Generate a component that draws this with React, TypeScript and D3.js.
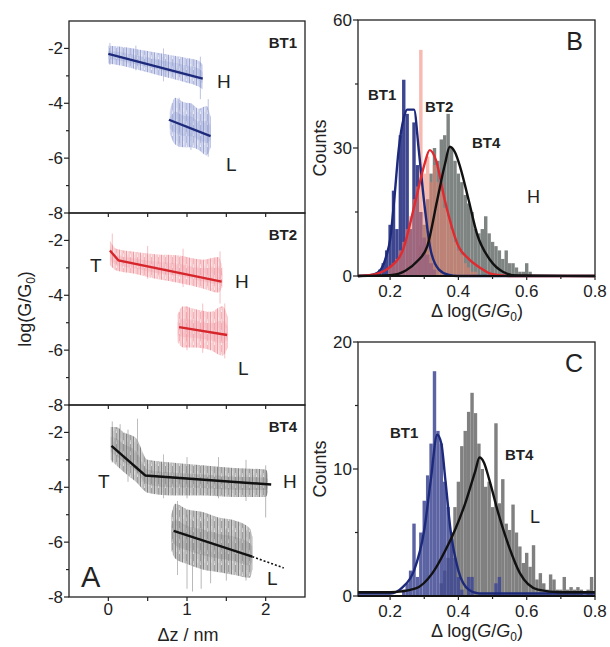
import React from 'react';
import * as d3 from 'd3';

// ---------- Panel A: conductance traces (envelopes) ----------
const zTicks = [0, 0.5, 1, 1.5, 2];
const zLabels = [0, 1, 2];
const logMajor = [-8, -6, -4, -2];
const logMinor = [-7, -5, -3];

const bt1HighZ = [0, 0.2, 0.4, 0.6, 0.8, 1.0, 1.15, 1.2];
const bt1HighTop = [-1.9, -1.95, -2.05, -2.15, -2.25, -2.35, -2.45, -2.6];
const bt1HighBot = [-2.55, -2.65, -2.8, -2.95, -3.1, -3.25, -3.4, -3.5];
const bt1LowZ = [0.78, 0.85, 0.95, 1.05, 1.15, 1.25, 1.3];
const bt1LowTop = [-4.3, -3.8, -3.95, -4.0, -4.2, -4.1, -4.5];
const bt1LowBot = [-5.1, -5.5, -5.6, -5.6, -5.7, -5.9, -5.6];

const bt2HighZ = [0.02, 0.1, 0.3, 0.6, 0.9, 1.2, 1.4, 1.45];
const bt2HighTop = [-2.0, -2.3, -2.4, -2.5, -2.55, -2.7, -2.6, -3.0];
const bt2HighBot = [-2.9, -3.1, -3.2, -3.4, -3.55, -3.75, -3.9, -3.7];
const bt2LowZ = [0.88, 0.95, 1.1, 1.3, 1.45, 1.52];
const bt2LowTop = [-4.7, -4.4, -4.5, -4.6, -4.4, -4.8];
const bt2LowBot = [-5.7, -5.9, -5.9, -6.0, -6.2, -5.9];

const bt4HighZ = [0.03, 0.1, 0.2, 0.35, 0.5, 0.8, 1.2, 1.6, 2.0, 2.03];
const bt4HighTop = [-1.8, -1.8, -2.0, -2.2, -3.0, -3.1, -3.2, -3.3, -3.35, -3.5];
const bt4HighBot = [-3.0, -3.2, -3.45, -3.8, -4.2, -4.3, -4.3, -4.35, -4.35, -4.2];
const bt4LowZ = [0.8, 0.85, 1.0, 1.2, 1.4, 1.6, 1.8, 1.83];
const bt4LowTop = [-5.0, -4.6, -4.8, -4.9, -5.1, -5.2, -5.5, -5.8];
const bt4LowBot = [-6.3, -6.6, -6.8, -7.0, -7.1, -7.2, -7.3, -7.0];

// spikes: [z, top, bottom]
const bt1Spikes = [[0.02, -1.8, -2.6], [0.35, -1.9, -2.8], [0.7, -2.0, -3.2], [1.17, -2.3, -3.85], [0.9, -3.8, -5.6], [1.27, -3.85, -5.95], [1.05, -4.0, -5.7]];
const bt2Spikes = [[0.05, -1.75, -2.8], [0.5, -2.2, -3.4], [0.95, -2.3, -3.7], [1.42, -2.4, -4.3], [1.48, -4.3, -6.3], [1.0, -4.4, -6.0], [1.2, -4.3, -6.1]];
const bt4Spikes = [
  [0.05, -1.6, -3.1], [0.15, -1.7, -3.2], [0.25, -1.9, -3.8], [0.37, -1.5, -3.5],
  [0.7, -2.8, -4.4], [1.0, -2.9, -4.4], [1.4, -2.9, -4.4], [1.75, -3.0, -4.5], [2.0, -3.2, -5.1],
  [0.88, -4.5, -7.2], [1.0, -5.0, -7.7], [1.07, -5.2, -7.8], [1.18, -5.3, -7.7], [1.3, -5.5, -7.5], [1.5, -5.5, -7.4], [1.75, -5.6, -7.4],
];

// fitted lines: [z, log]
const bt1FitH = [[0, -2.2], [1.2, -3.1]];
const bt1FitL = [[0.77, -4.6], [1.3, -5.2]];
const bt2FitH = [[0.02, -2.37], [0.13, -2.73], [1.44, -3.5]];
const bt2FitL = [[0.9, -5.16], [1.51, -5.45]];
const bt4FitH = [[0.04, -2.49], [0.47, -3.57], [2.07, -3.9]];
const bt4FitL = [[0.83, -5.59], [1.83, -6.53]];
const bt4FitLExt = [[1.83, -6.53], [2.23, -6.94]];

// ---------- Panel B: H-state noise histograms ----------
const histB_BT1 = [[0.16, 0.5], [0.17, 1.5], [0.18, 3], [0.19, 6], [0.20, 12], [0.21, 20], [0.22, 11], [0.23, 33], [0.24, 46], [0.25, 38], [0.26, 11], [0.27, 36], [0.28, 26], [0.29, 15], [0.30, 9], [0.31, 5], [0.32, 3], [0.33, 1.5]];
const histB_BT2 = [[0.20, 2], [0.21, 3], [0.22, 4], [0.23, 6], [0.24, 8], [0.25, 11], [0.26, 14], [0.27, 18], [0.28, 21], [0.29, 53], [0.30, 24], [0.31, 28], [0.32, 22], [0.33, 26], [0.34, 22], [0.35, 20], [0.36, 16], [0.37, 14], [0.38, 11], [0.39, 8], [0.40, 6], [0.41, 5], [0.42, 3], [0.43, 2], [0.44, 1], [0.45, 1]];
const histB_BT4 = [[0.26, 1], [0.27, 2], [0.28, 4], [0.29, 7], [0.30, 12], [0.31, 18], [0.32, 24], [0.33, 30], [0.34, 27], [0.35, 32], [0.36, 33], [0.37, 38], [0.38, 30], [0.39, 27], [0.40, 24], [0.41, 22], [0.42, 19], [0.43, 17], [0.44, 15], [0.45, 11], [0.46, 10], [0.47, 11], [0.48, 14], [0.49, 10], [0.50, 8], [0.51, 7], [0.52, 6], [0.53, 4], [0.54, 6], [0.55, 3], [0.56, 3], [0.57, 2], [0.58, 1], [0.59, 1], [0.60, 3], [0.61, 1]];
const fitB_BT1 = [[0.106, 0], [0.15, 0.3], [0.17, 1.2], [0.19, 5], [0.20, 8.5], [0.212, 17.8], [0.225, 29.5], [0.24, 37], [0.25, 39], [0.27, 39], [0.284, 29.5], [0.299, 17.8], [0.319, 6], [0.343, 1.5], [0.37, 0.3], [0.4, 0], [0.8, 0]];
const fitB_BT2 = [[0.106, 0], [0.16, 0.5], [0.198, 2], [0.237, 6], [0.275, 17.8], [0.30, 26], [0.316, 29.5], [0.335, 27], [0.36, 17.8], [0.40, 7], [0.43, 4], [0.464, 1.9], [0.5, 0.4], [0.55, 0], [0.8, 0]];
const fitB_BT4 = [[0.106, 0], [0.2, 0.2], [0.246, 1.3], [0.28, 3.5], [0.309, 7], [0.338, 17.8], [0.36, 26], [0.375, 30.3], [0.39, 29], [0.405, 25.6], [0.43, 17.8], [0.454, 10], [0.493, 3.75], [0.53, 1], [0.57, 0.1], [0.8, 0]];

// ---------- Panel C: L-state noise histograms ----------
const histC_BT1 = [[0.24, 0.5], [0.25, 1], [0.26, 2], [0.27, 5.7], [0.28, 1.5], [0.29, 5], [0.30, 7.5], [0.31, 9.5], [0.32, 12], [0.33, 17.7], [0.34, 13], [0.35, 12], [0.36, 9], [0.37, 7], [0.38, 4.5], [0.39, 3], [0.40, 1.5], [0.41, 0.5], [0.43, 1.5], [0.44, 1.5], [0.51, 1], [0.52, 1.5]];
const histC_BT4 = [[0.35, 1], [0.36, 2], [0.37, 3], [0.38, 5], [0.39, 7], [0.40, 9], [0.41, 11.8], [0.42, 13], [0.43, 14.5], [0.44, 16], [0.45, 14.4], [0.46, 12], [0.47, 10], [0.48, 8.6], [0.49, 9], [0.50, 7], [0.51, 13.6], [0.52, 7.3], [0.53, 9.2], [0.54, 5.7], [0.55, 5.2], [0.56, 7.2], [0.57, 5], [0.58, 3.9], [0.59, 2.6], [0.60, 3.4], [0.61, 2.3], [0.62, 4], [0.63, 1.3], [0.64, 1.8], [0.65, 1], [0.66, 0.5], [0.67, 1.7], [0.68, 1.3], [0.69, 0.5], [0.70, 0.5], [0.71, 1.5], [0.72, 0.5], [0.73, 0.7], [0.74, 0.5], [0.75, 0.7], [0.76, 0.5], [0.78, 0.5], [0.79, 1.5]];
const fitC_BT1 = [[0.106, 0.2], [0.2, 0.2], [0.237, 0.7], [0.27, 2], [0.30, 5.2], [0.319, 9.1], [0.338, 12.7], [0.35, 12], [0.362, 9.1], [0.377, 5.2], [0.40, 2], [0.43, 0.5], [0.46, 0.2], [0.8, 0.2]];
const fitC_BT4 = [[0.106, 0.3], [0.2, 0.3], [0.275, 0.6], [0.324, 1.8], [0.362, 3.6], [0.39, 5.2], [0.42, 7.3], [0.449, 9.8], [0.462, 10.9], [0.475, 10.5], [0.49, 9.2], [0.517, 6.5], [0.548, 3.9], [0.58, 1.8], [0.633, 0.5], [0.7, 0.3], [0.8, 0.3]];

const dTicks = [0.2, 0.4, 0.6, 0.8];
const dMinor = [0.3, 0.5, 0.7];
const countTicksB = [0, 30, 60];
const countMinorB = [15, 45];
const countTicksC = [0, 10, 20];
const countMinorC = [5, 15];

const FONT = "'Liberation Sans', Arial, Helvetica, sans-serif";
const BIN = 0.01;

const xA = d3.scaleLinear().domain([-0.5, 2.5]).range([69, 305]);

function Band({ z, top, bot, yS, pat, fill }) {
  const pts = z.map((v, i) => ({ z: v, t: top[i], b: bot[i] }));
  const area = d3.area().x(d => xA(d.z)).y0(d => yS(d.b)).y1(d => yS(d.t)).curve(d3.curveMonotoneX);
  const core = d3.area().x(d => xA(d.z))
    .y0(d => yS(d.b + (d.t - d.b) * 0.25)).y1(d => yS(d.t - (d.t - d.b) * 0.3)).curve(d3.curveMonotoneX);
  return (
    <g>
      <path d={area(pts)} fill={`url(#${pat})`} />
      <path d={core(pts)} fill={fill} opacity={0.22} />
    </g>
  );
}

function TracePanel({ top, name, clouds, spikes, fits, dotted, pat, fill, spikeColor, lineColor, labels, showX }) {
  const yS = d3.scaleLinear().domain([-8, -1]).range([top + 192, top]);
  const line = d3.line().x(d => xA(d[0])).y(d => yS(d[1]));
  const bottom = top + 192;
  return (
    <g>
      {clouds.map((c, i) => <Band key={i} {...c} yS={yS} pat={pat} fill={fill} />)}
      {spikes.map((s, i) => (
        <line key={i} x1={xA(s[0])} x2={xA(s[0])} y1={yS(s[1])} y2={yS(s[2])} stroke={spikeColor} strokeWidth={0.8} opacity={0.75} />
      ))}
      {fits.map((f, i) => <path key={i} d={line(f)} fill="none" stroke={lineColor} strokeWidth={2.4} />)}
      {dotted && <path d={line(dotted)} fill="none" stroke={lineColor} strokeWidth={1.6} strokeDasharray="2,2" />}
      <rect x={69} y={top} width={236} height={192} fill="none" stroke="#222" strokeWidth={1.3} />
      {logMajor.map(v => (
        <g key={v}>
          <line x1={64} x2={69} y1={yS(v)} y2={yS(v)} stroke="#222" strokeWidth={1.2} />
          <text x={63} y={yS(v) + 6} textAnchor="end" fontSize={17} fill="#222">{v}</text>
        </g>
      ))}
      {logMinor.map(v => <line key={v} x1={66} x2={69} y1={yS(v)} y2={yS(v)} stroke="#222" strokeWidth={1.2} />)}
      {zTicks.map(v => <line key={v} x1={xA(v)} x2={xA(v)} y1={bottom} y2={bottom + 4} stroke="#222" strokeWidth={1.2} />)}
      {showX && zLabels.map(v => (
        <text key={v} x={xA(v)} y={bottom + 18} textAnchor="middle" fontSize={17} fill="#222">{v}</text>
      ))}
      <text x={297} y={top + 27} textAnchor="end" fontSize={15} fontWeight="bold" fill="#222">{name}</text>
      {labels.map((l, i) => (
        <text key={i} x={l[1]} y={top + l[2]} fontSize={l[3] || 19} fill="#222">{l[0]}</text>
      ))}
    </g>
  );
}

function HistPanel({ top, height, yMax, yTicks, yMinor, hists, fits, letter, labels }) {
  const x = d3.scaleLinear().domain([0.106, 0.8]).range([358, 595]);
  const y = d3.scaleLinear().domain([0, yMax]).range([top + height, top]);
  const line = d3.line().x(d => x(d[0])).y(d => y(d[1])).curve(d3.curveMonotoneX);
  const bottom = top + height;
  return (
    <g>
      {hists.map((h, i) => (
        <g key={i} fill={h.color} opacity={h.opacity}>
          {h.data.map((b, j) => (
            <rect key={j} x={x(b[0] - BIN / 2)} width={x(b[0] + BIN / 2) - x(b[0] - BIN / 2)} y={y(b[1])} height={bottom - y(b[1])} />
          ))}
        </g>
      ))}
      {fits.map((f, i) => <path key={i} d={line(f.data)} fill="none" stroke={f.color} strokeWidth={2.4} />)}
      <rect x={358} y={top} width={237} height={height} fill="none" stroke="#222" strokeWidth={1.3} />
      <line x1={358} x2={595} y1={bottom} y2={bottom} stroke="#111" strokeWidth={2.2} />
      {yTicks.map(v => (
        <g key={v}>
          <line x1={353} x2={358} y1={y(v)} y2={y(v)} stroke="#222" strokeWidth={1.2} />
          <text x={352} y={y(v) + 6} textAnchor="end" fontSize={17} fill="#222">{v}</text>
        </g>
      ))}
      {yMinor.map(v => <line key={v} x1={355} x2={358} y1={y(v)} y2={y(v)} stroke="#222" strokeWidth={1.2} />)}
      {dTicks.map(v => (
        <g key={v}>
          <line x1={x(v)} x2={x(v)} y1={bottom} y2={bottom + 4} stroke="#222" strokeWidth={1.2} />
          <text x={x(v)} y={bottom + 21} textAnchor="middle" fontSize={17} fill="#222">{v.toFixed(1)}</text>
        </g>
      ))}
      {dMinor.map(v => <line key={v} x1={x(v)} x2={x(v)} y1={bottom} y2={bottom + 3} stroke="#222" strokeWidth={1.2} />)}
      <text x={583} y={top + 30} textAnchor="end" fontSize={25} fill="#222">{letter}</text>
      {labels.map((l, i) => (
        <text key={i} x={l[1]} y={top + l[2]} fontSize={l[3]} fontWeight={l[4] ? 'bold' : 'normal'} fill="#222">{l[0]}</text>
      ))}
      <text transform={`translate(326,${top + height / 2}) rotate(-90)`} textAnchor="middle" fontSize={18} fill="#222">Counts</text>
      <text x={477} y={bottom + 41} textAnchor="middle" fontSize={18} fill="#222">
        Δ log(<tspan fontStyle="italic">G</tspan>/<tspan fontStyle="italic">G</tspan><tspan fontSize={12} dy={4}>0</tspan><tspan dy={-4}>)</tspan>
      </text>
    </g>
  );
}

const zip = (z, t, b) => ({ z, top: t, bot: b });

function NoisePattern({ id, bg, dark, mid, light }) {
  // irregular vertical strokes, so the envelope reads as a dense noisy trace
  return (
    <pattern id={id} width={7} height={11} patternUnits="userSpaceOnUse">
      <rect width={7} height={11} fill={bg} />
      <rect x={0} y={0} width={0.9} height={11} fill={dark} />
      <rect x={1.6} y={2} width={0.6} height={7} fill={light} />
      <rect x={2.7} y={0} width={0.8} height={11} fill={mid} />
      <rect x={4.1} y={4} width={0.6} height={7} fill={dark} />
      <rect x={4.1} y={0} width={0.6} height={2} fill={light} />
      <rect x={5.5} y={0} width={0.8} height={11} fill={mid} />
    </pattern>
  );
}

export default function App() {
  return (
    <svg width={610} height={647} style={{ position: 'absolute', left: 0, top: 0, background: '#fff' }} fontFamily={FONT}>
      <defs>
        <NoisePattern id="pBlue" bg="#e6e9f5" dark="#8f9ad0" mid="#a9b2dd" light="#c6cce9" />
        <NoisePattern id="pRed" bg="#fce6e8" dark="#ef929b" mid="#f3aab1" light="#f8c9cd" />
        <NoisePattern id="pGray" bg="#d9d9d9" dark="#787878" mid="#969696" light="#b9b9b9" />
      </defs>

      <TracePanel top={21} name="BT1" pat="pBlue" fill="#7f8bc8" spikeColor="#8f9ad0" lineColor="#1d2a7c"
        clouds={[zip(bt1HighZ, bt1HighTop, bt1HighBot), zip(bt1LowZ, bt1LowTop, bt1LowBot)]}
        spikes={bt1Spikes} fits={[bt1FitH, bt1FitL]}
        labels={[["H", 217, 67], ["L", 226, 150]]} />
      <TracePanel top={213} name="BT2" pat="pRed" fill="#ee8c96" spikeColor="#f0959e" lineColor="#d6262c"
        clouds={[zip(bt2HighZ, bt2HighTop, bt2HighBot), zip(bt2LowZ, bt2LowTop, bt2LowBot)]}
        spikes={bt2Spikes} fits={[bt2FitH, bt2FitL]}
        labels={[["T", 90, 59], ["H", 235, 75], ["L", 238, 162]]} />
      <TracePanel top={405} name="BT4" pat="pGray" fill="#6e6e6e" spikeColor="#8a8a8a" lineColor="#111"
        clouds={[zip(bt4HighZ, bt4HighTop, bt4HighBot), zip(bt4LowZ, bt4LowTop, bt4LowBot)]}
        spikes={bt4Spikes} fits={[bt4FitH, bt4FitL]} dotted={bt4FitLExt} showX
        labels={[["T", 98, 83], ["H", 283, 83], ["L", 267, 180], ["A", 81, 182, 29]]} />

      <text transform="translate(31,309) rotate(-90)" textAnchor="middle" fontSize={18} fill="#222">
        log(G/G<tspan fontSize={12} dy={4}>0</tspan><tspan dy={-4}>)</tspan>
      </text>
      <text x={188} y={641} textAnchor="middle" fontSize={18} fill="#222">Δz / nm</text>

      <HistPanel top={20} height={256} yMax={60} yTicks={countTicksB} yMinor={countMinorB} letter="B"
        hists={[
          { data: histB_BT4, color: '#7e8482', opacity: 1 },
          { data: histB_BT1, color: '#3e468f', opacity: 1 },
          { data: histB_BT2, color: '#f0826e', opacity: 0.55 },
        ]}
        fits={[
          { data: fitB_BT1, color: '#1d2a7c' },
          { data: fitB_BT2, color: '#e02a30' },
          { data: fitB_BT4, color: '#111' },
        ]}
        labels={[["BT1", 368, 80, 15, true], ["BT2", 425, 92, 15, true], ["BT4", 472, 128, 15, true], ["H", 527, 183, 18]]} />

      <HistPanel top={342} height={254} yMax={20} yTicks={countTicksC} yMinor={countMinorC} letter="C"
        hists={[
          { data: histC_BT4, color: '#808080', opacity: 1 },
          { data: histC_BT1, color: '#3f4894', opacity: 0.85 },
        ]}
        fits={[
          { data: fitC_BT1, color: '#1d2a7c' },
          { data: fitC_BT4, color: '#111' },
        ]}
        labels={[["BT1", 390, 96, 15, true], ["BT4", 505, 118, 15, true], ["L", 530, 181, 18]]} />
    </svg>
  );
}
